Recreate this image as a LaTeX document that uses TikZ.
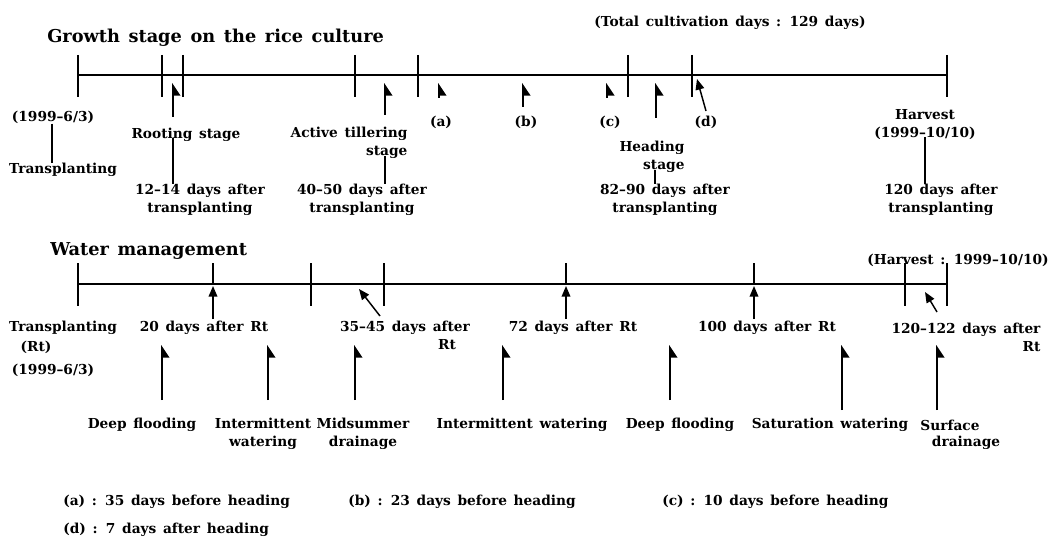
\documentclass[tikz,border=0pt]{standalone}
\usepackage{fontspec}
\setmainfont{DejaVu Serif}[WordSpace=1.4]
\usetikzlibrary{arrows.meta}
\tikzset{
  lbl/.style={font=\bfseries\fontsize{10.3}{13.5}\selectfont,inner sep=0pt,align=center},
  title/.style={font=\bfseries\fontsize{13.3}{15}\selectfont,inner sep=0pt},
  axis/.style={line width=1.4pt},
  tick/.style={line width=1.3pt},
  link/.style={line width=1.1pt},
  flag/.style={line width=1.2pt,-{Triangle[harpoon,swap,length=8.5pt,width=11pt]}},
  pointer/.style={line width=1.1pt,-{Triangle[length=8pt,width=6.5pt]}}
}

\begin{document}
\begin{tikzpicture}[x=0.75pt,y=-0.75pt]
  \useasboundingbox (0,0) rectangle (1059,545);

  % growth stage
  \node[title,anchor=west] (gtitle) at (47,38) {Growth stage on the rice culture};
  \node[lbl] (total) at (730,23) {(Total cultivation days : 129 days)};
  \draw[axis] (78,75) coordinate (gstart) -- (947,75) coordinate (gend);
  \foreach \x in {78,162,183,355,418,628,692,947}
    \draw[tick] (\x,55) -- (\x,97);
  \foreach \x/\y in {173/117,385/115,439/98,523/107,607/98,656/118}
    \draw[flag] (\x,\y) -- (\x,83);
  \draw[pointer] (706,111) -- (697,79);

  \node[lbl] (plant0) at (53,117) {(1999--6/3)};
  \node[lbl] (trans0) at (63,170) {Transplanting};
  \draw[link] (52,0 |- plant0.south) -- (52,0 |- trans0.north);

  \node[lbl] (root) at (186,135) {Rooting stage};
  \node[lbl] (rootdays) at (200,200) {12--14 days after\\transplanting};
  \draw[link] (173,0 |- root.south) ++(0,-4) -- (173,0 |- rootdays.north);

  \node[lbl,align=right] (till) at (349,143) {Active tillering\\stage};
  \node[lbl] (tilldays) at (362,200) {40--50 days after\\transplanting};
  \draw[link] (385,0 |- till.south) ++(0,-3) -- (385,0 |- tilldays.north);

  \node[lbl] (a) at (441,122) {(a)};
  \node[lbl] (b) at (526,122) {(b)};
  \node[lbl] (c) at (610,122) {(c)};
  \node[lbl] (d) at (706,122) {(d)};

  \node[lbl,align=right] (head) at (652,157) {Heading\\stage};
  \node[lbl] (headdays) at (665,200) {82--90 days after\\transplanting};
  \draw[link] (655,0 |- head.south) ++(0,-3) -- (655,0 |- headdays.north);

  \node[lbl] (harv) at (925,125) {Harvest\\(1999--10/10)};
  \node[lbl] (harvdays) at (941,200) {120 days after\\transplanting};
  \draw[link] (925,0 |- harv.south) ++(0,-3) -- (925,0 |- harvdays.north);

  % water management
  \node[title,anchor=west] (wtitle) at (50,251) {Water management};
  \node[lbl] (wharv) at (958,260) {(Harvest : 1999--10/10)};
  \draw[axis] (78,284) coordinate (wstart) -- (947,284) coordinate (wend);
  \foreach \x in {78,311,384,905,947}
    \draw[tick] (\x,263) -- (\x,306);
  \foreach \x in {213,566,754}{
    \draw[tick] (\x,263) -- (\x,284);
    \draw[pointer] (\x,319) -- (\x,286);
  }
  \draw[pointer] (380,316) -- (359,289);
  \draw[pointer] (937,312) -- (925,292);
  \foreach \x/\y in {162/400,268/400,355/400,503/400,670/400,842/410,937/410}
    \draw[flag] (\x,\y) -- (\x,345);

  \node[lbl] (trans1) at (63,328) {Transplanting};
  \node[lbl] (rt1) at (36,347) {(Rt)};
  \node[lbl] (plant1) at (53,370) {(1999--6/3)};
  \node[lbl] (d20) at (204,328) {20 days after\enspace Rt};
  \node[lbl] (d35) at (405,328) {35--45 days after};
  \node[lbl] (d35rt) at (447,345) {Rt};
  \node[lbl] (d72) at (573,328) {72 days after Rt};
  \node[lbl] (d100) at (767,328) {100 days after Rt};
  \node[lbl,align=right] (d120) at (966,337) {120--122 days after\\Rt};

  \node[lbl] (deep1) at (142,425) {Deep flooding};
  \node[lbl] (inter1) at (263,434) {Intermittent\\watering};
  \node[lbl] (mid) at (363,434) {Midsummer\\drainage};
  \node[lbl] (inter2) at (522,425) {Intermittent watering};
  \node[lbl] (deep2) at (680,425) {Deep flooding};
  \node[lbl] (satur) at (830,425) {Saturation watering};
  \node[lbl] (surf) at (950,425) {Surface};
  \node[lbl] (drain) at (966,443) {drainage};

  % legend
  \node[lbl,anchor=west] (leg-a) at (63,502) {(a) : 35 days before heading};
  \node[lbl,anchor=west] (leg-b) at (348,502) {(b) : 23 days before heading};
  \node[lbl,anchor=west] (leg-c) at (662,502) {(c) : 10 days before heading};
  \node[lbl,anchor=west] (leg-d) at (63,530) {(d) : 7 days after heading};
\end{tikzpicture}
\end{document}
